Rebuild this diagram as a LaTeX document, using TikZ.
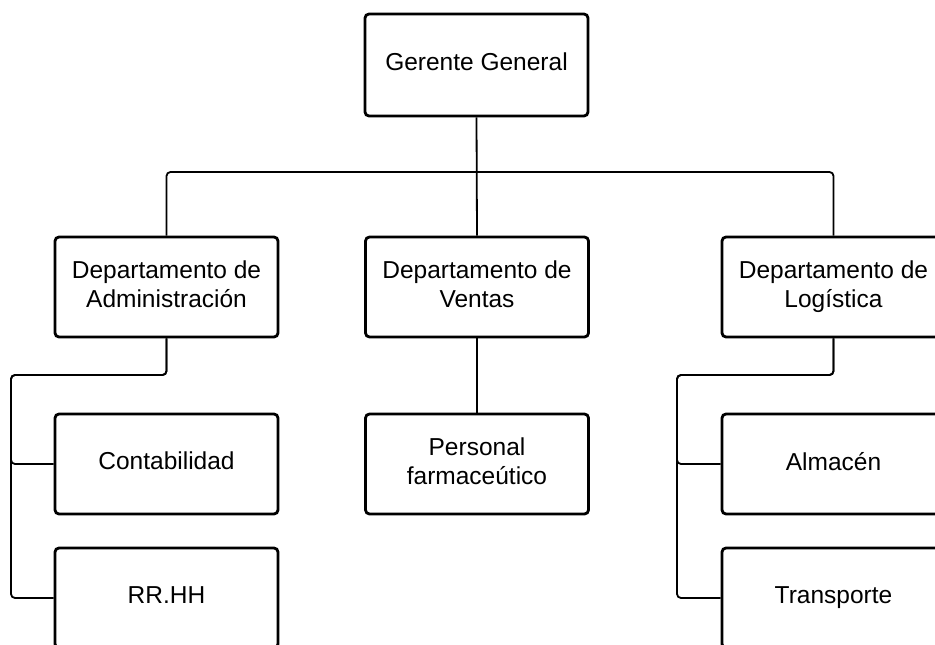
\documentclass[tikz,border=0pt]{standalone}
\usepackage{fontspec}
\setmainfont{Liberation Sans}
\newcommand\boxstrut{\rule[-6pt]{0pt}{21pt}}
\begin{document}
\begin{tikzpicture}[x=1pt,y=-1pt,
  box/.style={draw, line width=2.8pt, rounded corners=4pt, minimum width=223pt, minimum height=100pt, align=center, font=\fontsize{24.5}{29}\selectfont, inner sep=0pt, fill=white, execute at begin node=\boxstrut, execute at end node=\boxstrut},
  link/.style={line width=1.8pt, rounded corners=4pt}]
\useasboundingbox (0,0) rectangle (935,645);
\clip (0,0) rectangle (935,645);
\coordinate (bus) at (477,172);
\coordinate (aL) at (11,375);
\coordinate (lL) at (677,375);
\node[box, minimum height=102pt] (gg) at (476.5,65) {Gerente General};
\node[box] (admin) at (166.5,287) {Departamento de\\Administración};
\node[box] (ventas) at (477,287) {Departamento de\\Ventas};
\node[box] (log) at (833.5,287) {Departamento de\\Logística};
\node[box] (pers) at (477,464) {Personal\\farmaceútico};
\node[box] (cont) at (166.5,464) {Contabilidad};
\node[box] (rrhh) at (166.5,598) {RR.HH};
\node[box] (alm) at (833.5,464) {Almacén};
\node[box] (trans) at (833.5,598) {Transporte};
\draw[link] (gg.south) -- (ventas.north);
\draw[link] (admin.north) |- (bus) -| (log.north);
\draw[link] (ventas.south) -- (pers.north);
\draw[link] (admin.south) |- (aL) |- (cont.west);
\draw[link] (admin.south) |- (aL) |- (rrhh.west);
\draw[link] (log.south) |- (lL) |- (alm.west);
\draw[link] (log.south) |- (lL) |- (trans.west);
\end{tikzpicture}
\end{document}
